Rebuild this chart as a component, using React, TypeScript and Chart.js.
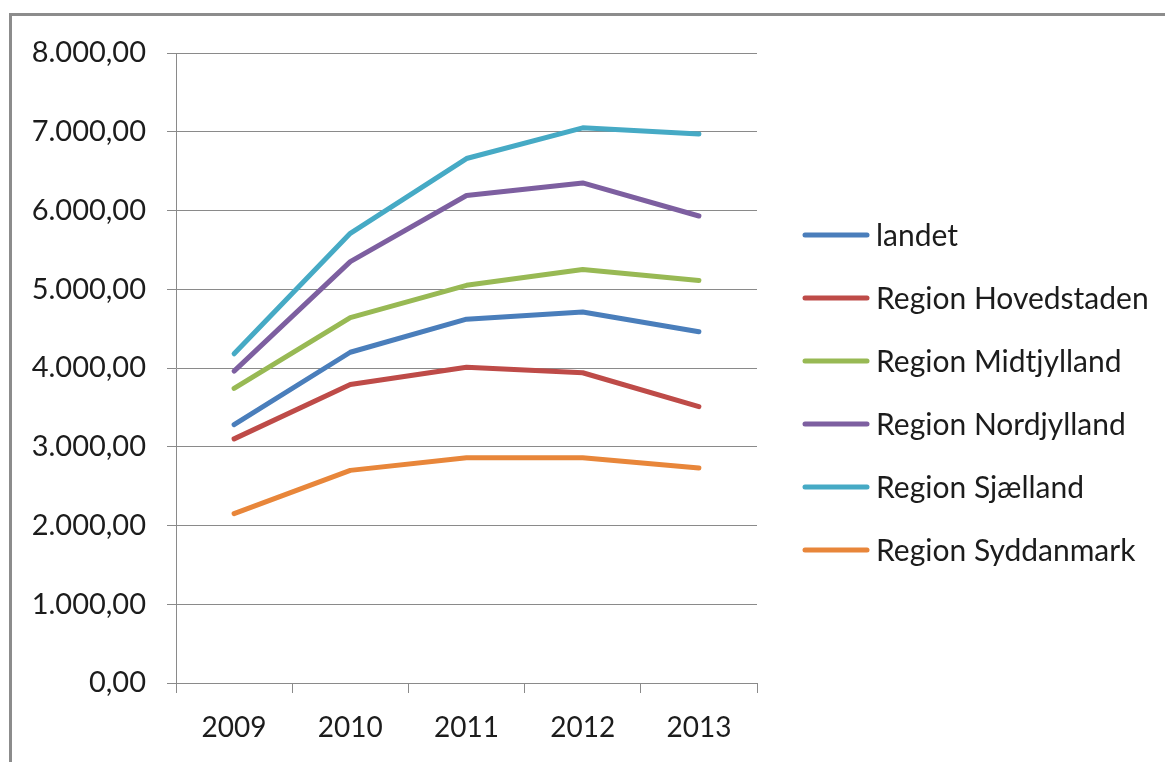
import { useEffect, useRef } from "react";
import { Chart, registerables } from "chart.js";

Chart.register(...registerables);

// Categories (years)
const years = ["2009", "2010", "2011", "2012", "2013"];

// Series values
const landet = [3280, 4200, 4620, 4710, 4460];
const hovedstaden = [3100, 3790, 4010, 3940, 3510];
const midtjylland = [3740, 4640, 5050, 5250, 5110];
const nordjylland = [3960, 5350, 6190, 6350, 5930];
const sjaelland = [4180, 5710, 6660, 7050, 6970];
const syddanmark = [2150, 2700, 2860, 2860, 2730];

const seriesNames = [
  "landet",
  "Region Hovedstaden",
  "Region Midtjylland",
  "Region Nordjylland",
  "Region Sjælland",
  "Region Syddanmark",
];
const seriesValues = [landet, hovedstaden, midtjylland, nordjylland, sjaelland, syddanmark];
const seriesColors = ["#4A7EBB", "#BE4B48", "#98B954", "#7D5FA0", "#46AAC5", "#E8863A"];

// Value axis range
const yMin = 0;
const yMax = 8000;
const yStep = 1000;

const FONT = "Lato, 'Open Sans', 'Liberation Sans', sans-serif";
const TEXT_COLOR = "#1c1c1c";
const GRID_COLOR = "#8a8a8a";

// Danish number format: 8.000,00
function formatDa(v: number): string {
  const [intPart, dec] = Math.abs(v).toFixed(2).split(".");
  const grouped = intPart.replace(/\B(?=(\d{3})+(?!\d))/g, ".");
  return (v < 0 ? "-" : "") + grouped + "," + dec;
}

// Legend on the right: a short line swatch followed by the series name
const sideLegend = {
  id: "sideLegend",
  afterDraw(chart: any) {
    const { ctx, chartArea } = chart;
    const x0 = chartArea.right + 48;
    const swatchLen = 62;
    const top = 235;
    const step = 63;
    ctx.save();
    ctx.font = `30px ${FONT}`;
    ctx.textBaseline = "middle";
    ctx.textAlign = "left";
    chart.data.datasets.forEach((ds: any, i: number) => {
      const y = top + i * step;
      ctx.strokeStyle = ds.borderColor;
      ctx.lineWidth = 5;
      ctx.lineCap = "round";
      ctx.beginPath();
      ctx.moveTo(x0, y);
      ctx.lineTo(x0 + swatchLen, y);
      ctx.stroke();
      ctx.fillStyle = TEXT_COLOR;
      ctx.fillText(ds.label, x0 + swatchLen + 9, y + 1);
    });
    ctx.restore();
  },
};

export default function App() {
  const canvasRef = useRef<HTMLCanvasElement | null>(null);

  useEffect(() => {
    const canvas = canvasRef.current;
    if (!canvas) return;
    const chart = new Chart(canvas, {
      type: "line",
      data: {
        labels: years,
        datasets: seriesValues.map((vals, i) => ({
          label: seriesNames[i],
          data: vals,
          borderColor: seriesColors[i],
          backgroundColor: seriesColors[i],
          borderWidth: 5,
          borderCapStyle: "round",
          borderJoinStyle: "round",
          pointRadius: 0,
          pointHoverRadius: 0,
          tension: 0,
          fill: false,
        })),
      },
      options: {
        responsive: false,
        animation: false,
        layout: { padding: { top: 53, left: 0, right: 408, bottom: 0 } },
        plugins: {
          legend: { display: false },
          tooltip: { enabled: false },
        },
        scales: {
          x: {
            offset: true,
            grid: {
              offset: true,
              drawOnChartArea: false,
              drawTicks: true,
              tickLength: 10,
              color: GRID_COLOR,
              lineWidth: 1,
            },
            border: { color: GRID_COLOR, width: 1 },
            ticks: {
              color: TEXT_COLOR,
              font: { family: FONT, size: 28 },
              padding: 18,
              maxRotation: 0,
            },
            afterFit: (scale: any) => {
              scale.height = 79;
            },
          },
          y: {
            min: yMin,
            max: yMax,
            grid: {
              color: GRID_COLOR,
              lineWidth: 1,
              tickLength: 9,
            },
            border: { color: GRID_COLOR, width: 1 },
            ticks: {
              stepSize: yStep,
              color: TEXT_COLOR,
              font: { family: FONT, size: 29 },
              padding: 21,
              callback: (v: any) => formatDa(Number(v)),
            },
            afterFit: (scale: any) => {
              scale.width = 176;
            },
          },
        },
      },
      plugins: [sideLegend],
    });
    return () => chart.destroy();
  }, []);

  return (
    <div
      style={{
        position: "fixed",
        left: 0,
        top: 0,
        width: 1165,
        height: 762,
        overflow: "hidden",
        background: "#ffffff",
      }}
    >
      <div
        style={{
          position: "absolute",
          left: 9,
          top: 13,
          width: 1400,
          height: 1000,
          borderLeft: "3px solid #8c8c8c",
          borderTop: "3px solid #8c8c8c",
        }}
      />
      <canvas
        ref={canvasRef}
        width={1165}
        height={762}
        style={{ position: "absolute", left: 0, top: 0 }}
      />
    </div>
  );
}
